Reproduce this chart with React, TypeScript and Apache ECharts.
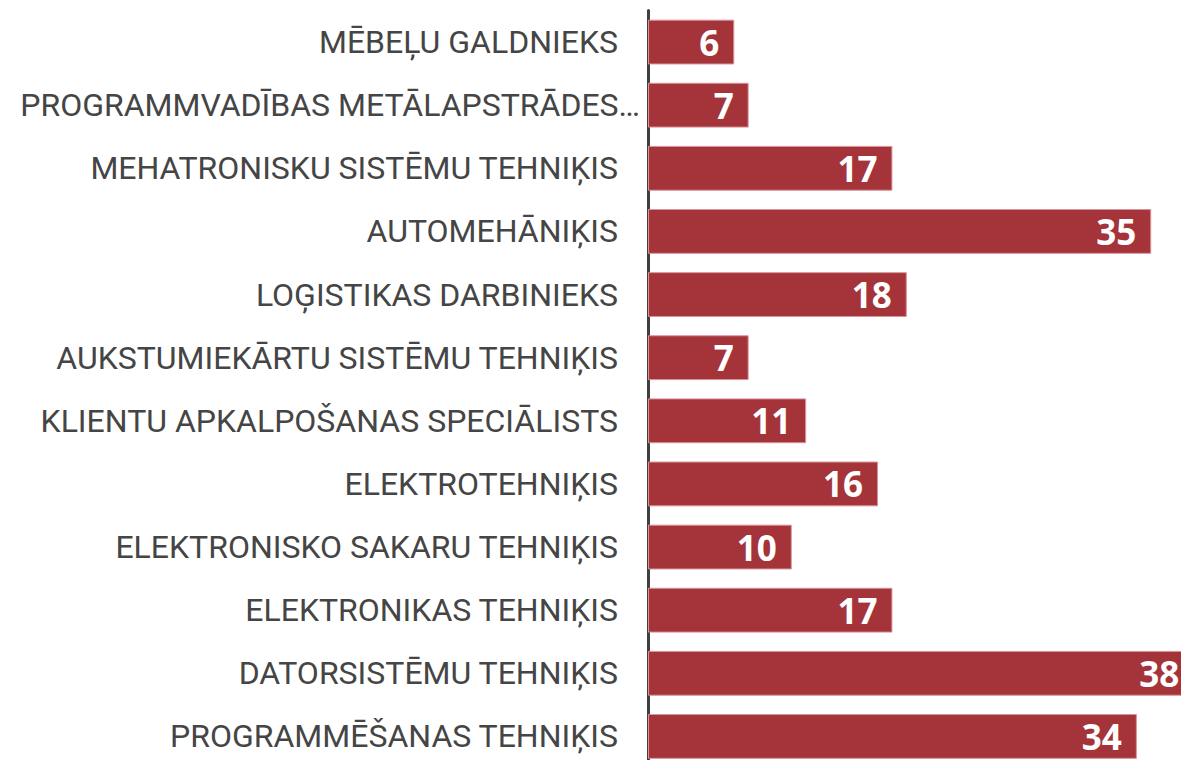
import React, { useEffect, useRef } from "react";
import * as echarts from "echarts";

const categories = [
  "MĒBEĻU GALDNIEKS",
  "PROGRAMMVADĪBAS METĀLAPSTRĀDES…",
  "MEHATRONISKU SISTĒMU TEHNIĶIS",
  "AUTOMEHĀNIĶIS",
  "LOĢISTIKAS DARBINIEKS",
  "AUKSTUMIEKĀRTU SISTĒMU TEHNIĶIS",
  "KLIENTU APKALPOŠANAS SPECIĀLISTS",
  "ELEKTROTEHNIĶIS",
  "ELEKTRONISKO SAKARU TEHNIĶIS",
  "ELEKTRONIKAS TEHNIĶIS",
  "DATORSISTĒMU TEHNIĶIS",
  "PROGRAMMĒŠANAS TEHNIĶIS",
];
const values = [6, 7, 17, 35, 18, 7, 11, 16, 10, 17, 38, 34];
const truncatedIndex = 1;

export default function App() {
  const ref = useRef<HTMLDivElement>(null);
  useEffect(() => {
    if (!ref.current) return;
    const chart = echarts.init(ref.current, undefined, { renderer: "svg" });
    chart.setOption({
      animation: false,
      grid: { left: 648, right: 0, top: 10.5, bottom: 0, containLabel: false },
      xAxis: {
        type: "value",
        min: 0,
        max: 37.07,
        show: false,
      },
      yAxis: {
        type: "category",
        inverse: true,
        data: categories.map((c, i) =>
          i === truncatedIndex ? { value: c, textStyle: { padding: [0, -22, 0, 0] } } : c
        ),
        axisLine: { show: true, lineStyle: { color: "#404040", width: 3 } },
        axisTick: { show: false },
        axisLabel: {
          margin: 30,
          color: "#454545",
          fontFamily: "Roboto",
          fontWeight: "normal",
          fontSize: 32,
        },
      },
      series: [
        {
          type: "bar",
          data: values,
          barCategoryGap: "29%",
          clip: false,
          itemStyle: { color: "#a4343a", borderColor: "#d9959a", borderWidth: 1 },
          label: {
            show: true,
            position: "insideRight",
            distance: 15,
            color: "#ffffff",
            fontFamily: "Open Sans",
            fontWeight: "bold",
            fontSize: 35,
          },
        },
      ],
    });
    return () => chart.dispose();
  }, []);
  return (
    <div style={{ width: 1181, height: 760, position: "absolute", left: 0, top: 0, overflow: "hidden" }}>
      <div ref={ref} style={{ width: 1181, height: 768 }} />
    </div>
  );
}
